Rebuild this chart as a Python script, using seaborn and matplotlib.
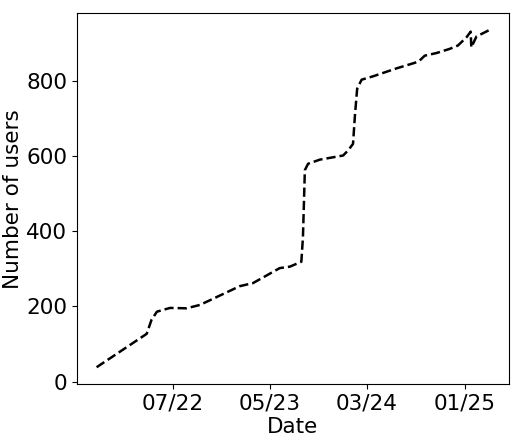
import pandas as pd
import matplotlib
import matplotlib.pyplot as plt
import seaborn as sns

matplotlib.use('Agg')

# cumulative user count
dates = ['2021-11-04', '2022-04-10', '2022-04-25', '2022-05-12', '2022-06-22',
         '2022-08-13', '2022-09-24', '2023-01-27', '2023-03-09', '2023-06-01',
         '2023-07-03', '2023-08-08', '2023-08-13', '2023-08-19', '2023-08-29',
         '2023-10-05', '2023-12-17', '2024-01-02', '2024-01-17', '2024-01-23',
         '2024-01-30', '2024-02-13', '2024-03-20', '2024-06-01', '2024-07-29',
         '2024-08-13', '2024-08-29', '2024-10-05', '2024-11-15', '2024-12-11',
         '2024-12-22', '2025-01-07', '2025-01-20', '2025-01-22', '2025-02-07',
         '2025-03-19']
users = [38, 127, 164, 186, 196,
         195, 204, 254, 262, 302,
         306, 319, 385, 563, 580,
         591, 602, 616, 633, 709,
         780, 804, 813, 834, 849,
         855, 868, 875, 886, 895,
         904, 917, 932, 890, 919,
         936]

tick_dates = ['2022-07-01', '2023-05-01', '2024-03-01', '2025-01-01']
tick_labels = ['07/22', '05/23', '03/24', '01/25']

df = pd.DataFrame({'Date': pd.to_datetime(dates), 'Number of users': users})

fig, ax = plt.subplots(figsize=(5.15, 4.42), dpi=100)
fig.subplots_adjust(left=0.1495, right=0.988, top=0.970, bottom=0.131)

sns.lineplot(data=df, x='Date', y='Number of users', ax=ax,
             color='black', linestyle='--', linewidth=1.8)

ax.set_xticks(pd.to_datetime(tick_dates))
ax.set_xticklabels(tick_labels)
ax.set_yticks([0, 200, 400, 600, 800])
ax.tick_params(labelsize=15.5)
ax.set_xlabel('Date', fontsize=15.5, labelpad=2)
ax.set_ylabel('Number of users', fontsize=15.5, labelpad=2)

plt.savefig('out.png', dpi=100)
